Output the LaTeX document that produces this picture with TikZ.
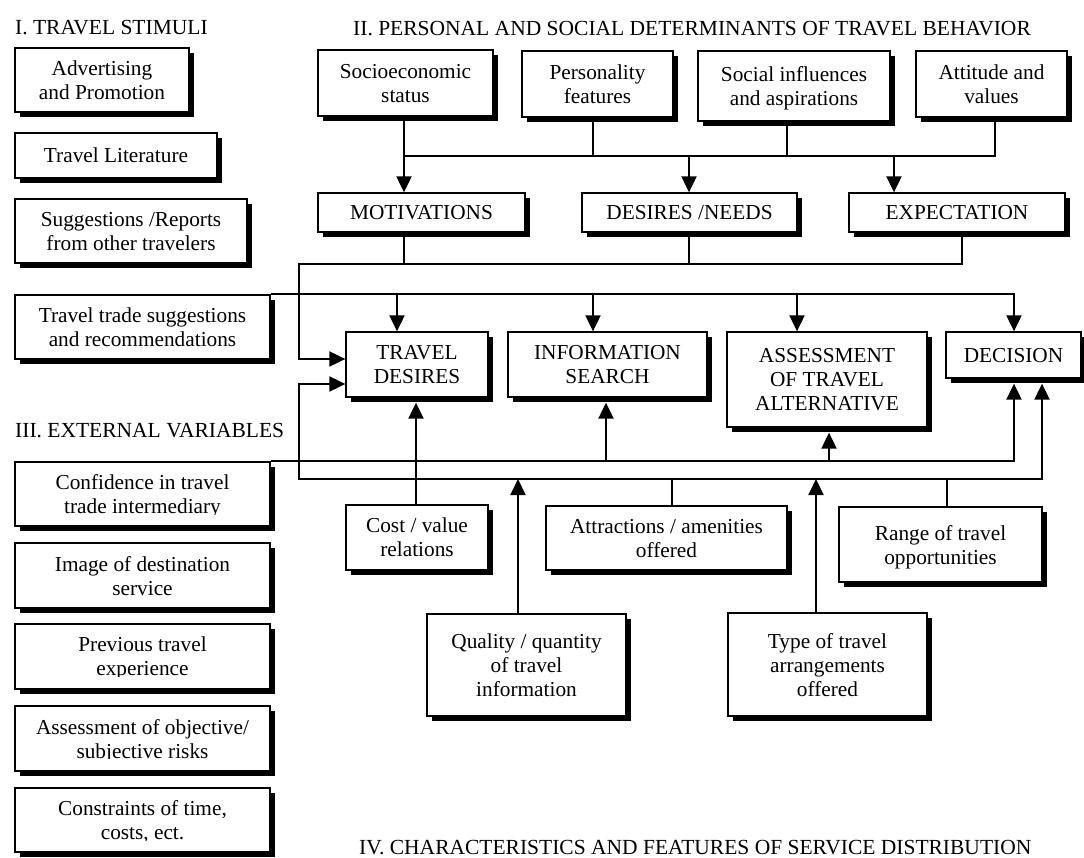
\documentclass[tikz,border=0pt]{standalone}
\usepackage{fontspec}
\setmainfont{Liberation Serif}
\usetikzlibrary{shadows,arrows.meta,calc}

\begin{document}
\begin{tikzpicture}[x=1pt,y=-1pt,
  box/.style={draw, line width=1.3pt, fill=white, align=center, inner sep=0pt,
    text depth=-5pt, font=\fontsize{21.3}{24}\selectfont,
    drop shadow={shadow xshift=5pt, shadow yshift=-5pt, opacity=1, fill=black}},
  title/.style={anchor=base west, inner sep=0pt, font=\fontsize{21.5}{24}\selectfont},
  wire/.style={line width=2pt, line join=miter},
  tip/.tip={Triangle[length=16pt,width=15pt]},
  arr/.style={wire, -tip},
  uparr/.style={wire, -tip, shorten >=5pt},
  mask/.style={fill=white}
]
\useasboundingbox (0,0) rectangle (1084,858);

% ---------- section titles ----------
\node[title] (t1) at (15,35)  {I. TRAVEL STIMULI};
\node[title] (t2) at (353,36) {II. PERSONAL AND SOCIAL DETERMINANTS OF TRAVEL BEHAVIOR};
\node[title] (t3) at (15,437) {III. EXTERNAL VARIABLES};
\node[title] (t4) at (359,854) {IV. CHARACTERISTICS AND FEATURES OF SERVICE DISTRIBUTION};

% ---------- I. travel stimuli ----------
\node[box, minimum width=174pt, minimum height=64pt] (adv) at (102,80) {Advertising\\and Promotion};
\node[box, minimum width=202pt, minimum height=45pt] (lit) at (116,155.5) {Travel Literature};
\node[box, minimum width=232pt, minimum height=64pt] (sug) at (131,231) {Suggestions /Reports\\from other travelers};
\node[box, minimum width=255pt, minimum height=64pt] (trade) at (142.5,327) {Travel trade suggestions\\and recommendations};

% ---------- III. external variables ----------
\node[box, minimum width=255pt, minimum height=64pt] (conf) at (142.5,494) {Confidence in travel\\trade intermediary};
\node[box, minimum width=255pt, minimum height=65pt] (img)  at (142.5,575.5) {Image of destination\\service};
\node[box, minimum width=255pt, minimum height=65pt] (prev) at (142.5,656.5) {Previous travel\\experience};
\node[box, minimum width=255pt, minimum height=65pt] (risk) at (142.5,738.5) {Assessment of objective/\\subjective risks};
\node[box, minimum width=255pt, minimum height=64pt] (cons) at (142.5,820) {Constraints of time,\\costs, ect.};

% descenders of the last lines are cut off by the text frames
\foreach \b in {conf,prev,risk,cons}
  \fill[mask] ($(\b.base)+(-126,1)$) rectangle ($(\b.south)+(126,-1.4)$);

% ---------- II. personal and social determinants ----------
\node[box, minimum width=175pt, minimum height=66pt] (socio)  at (405.5,83) {Socioeconomic\\status};
\node[box, minimum width=151pt, minimum height=66pt] (pers)   at (597.5,84) {Personality\\features};
\node[box, minimum width=192pt, minimum height=70pt] (social) at (794,86)   {Social influences\\and aspirations};
\node[box, minimum width=151pt, minimum height=66pt] (att)    at (991.5,84) {Attitude and\\values};

\node[box, minimum width=207pt, minimum height=39pt] (mot) at (421.5,212.5) {MOTIVATIONS};
\node[box, minimum width=215pt, minimum height=39pt] (des) at (689.5,212.5) {DESIRES /NEEDS};
\node[box, minimum width=216pt, minimum height=39pt] (exp) at (957,212.5)   {EXPECTATION};

% ---------- decision process ----------
\node[box, minimum width=142pt, minimum height=65pt] (td)  at (417,364.5)   {TRAVEL\\DESIRES};
\node[box, minimum width=199pt, minimum height=65pt] (is)  at (607.5,364.5) {INFORMATION\\SEARCH};
\node[box, minimum width=200pt, minimum height=95pt] (ass) at (827,379.5)   {ASSESSMENT\\OF TRAVEL\\ALTERNATIVE};
\node[box, minimum width=135pt, minimum height=46pt] (dec) at (1013.5,355)  {DECISION};

% ---------- IV. service distribution ----------
\node[box, minimum width=142pt, minimum height=65pt]  (cost)  at (417,537.5)   {Cost / value\\relations};
\node[box, minimum width=241pt, minimum height=64pt]  (attr)  at (666.5,538)   {Attractions / amenities\\offered};
\node[box, minimum width=203pt, minimum height=75pt]  (range) at (940.5,544.5) {Range of travel\\opportunities};
\node[box, minimum width=199pt, minimum height=102pt] (qual)  at (526.5,665)   {Quality / quantity\\of travel\\information};
\node[box, minimum width=199pt, minimum height=103pt] (type)  at (827.5,664.5) {Type of travel\\arrangements\\offered};

% ---------- routing points of the connectors ----------
\coordinate (detW) at (404,156);  \coordinate (detE) at (995,156);
\coordinate (xPers) at (593,0);   \coordinate (xSocial) at (787,0);
\coordinate (xDes) at (689,0);    \coordinate (xExpIn) at (894,0);
\coordinate (motW) at (299,264);  \coordinate (motE) at (962,264);
\coordinate (yIn1) at (0,359);    \coordinate (yIn2) at (0,384);
\coordinate (xTd) at (397,0);     \coordinate (xIs) at (593,0);
\coordinate (xAss) at (797,0);    \coordinate (xDec) at (1014,0);
\coordinate (xIsUp) at (606,0);   \coordinate (xAssUp) at (829,0);
\coordinate (featW) at (299,479); \coordinate (featE) at (1042,479);
\coordinate (xCost) at (416,0);
\coordinate (xQual) at (518,0);   \coordinate (xType) at (816,0);
\coordinate (xAttr) at (672,0);   \coordinate (xRange) at (947,0);

% determinants -> motivations, desires, expectation
\draw[wire] (socio.south -| detW) -- (detW) -- (detE) -- (att.south -| detE);
\draw[wire] (pers.south -| xPers) -- (detW -| xPers);
\draw[wire] (social.south -| xSocial) -- (detW -| xSocial);
\draw[arr] (detW) -- (mot.north -| detW);
\draw[arr] (detW -| xDes) -- (des.north -| xDes);
\draw[arr] (detW -| xExpIn) -- (exp.north -| xExpIn);

% motivations, desires, expectation -> travel desires
\draw[wire, tip-] (td.west |- yIn1) -- (motW |- yIn1) -- (motW) -- (motE) -- (exp.south -| motE);
\draw[wire] (mot.south -| detW) -- (motW -| detW);
\draw[wire] (des.south -| xDes) -- (motW -| xDes);

% travel trade suggestions -> every stage
\draw[arr] (trade.north east) -- (trade.north east -| xDec) -- (dec.north -| xDec);
\draw[arr] (trade.north east -| xTd)  -- (td.north -| xTd);
\draw[arr] (trade.north east -| xIs)  -- (is.north -| xIs);
\draw[arr] (trade.north east -| xAss) -- (ass.north -| xAss);

% external variables -> search, assessment, decision
\draw[uparr] (conf.north east) -- (conf.north east -| xDec) -- (dec.south -| xDec);
\draw[uparr] (conf.north east -| xIsUp) -- (is.south -| xIsUp);
\draw[uparr] (conf.north east -| xAssUp) -- (ass.south -| xAssUp);

% service distribution -> travel desires and decision
\draw[wire, tip-tip, shorten >=5pt] (td.west |- yIn2) -- (featW |- yIn2) -- (featW) -- (featE) -- (dec.south -| featE);
\draw[wire] (attr.north -| xAttr) -- (featW -| xAttr);
\draw[wire] (range.north -| xRange) -- (featW -| xRange);
\draw[arr] (qual.north -| xQual) -- (featW -| xQual);
\draw[arr] (type.north -| xType) -- (featW -| xType);
\draw[uparr] (cost.north -| xCost) -- (td.south -| xCost);

\end{tikzpicture}
\end{document}
